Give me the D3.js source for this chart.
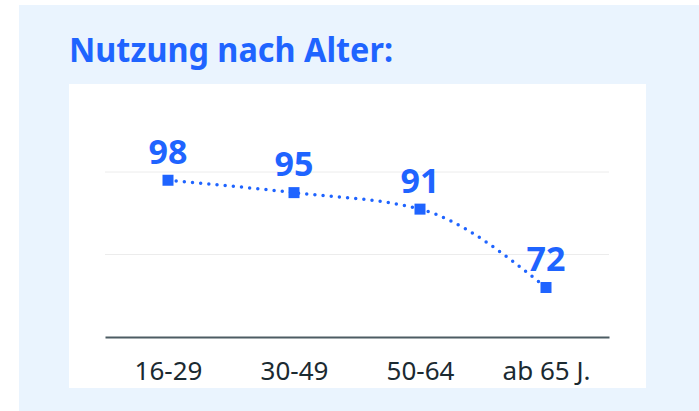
<!DOCTYPE html>
<html>
<head>
<meta charset="utf-8">
<script src="https://cdn.jsdelivr.net/npm/d3@7"></script>
<style>
  body { margin: 0; background: #fff; }
  svg { display: block; font-family: "Noto Sans", "Open Sans", sans-serif; }
</style>
</head>
<body>
<svg id="chart" width="699" height="411"></svg>
<script>
// chart data
var categories = ["16-29", "30-49", "50-64", "ab 65 J."];
var values = [98, 95, 91, 72];
var gridTicks = [60, 80, 100];
var title = "Nutzung nach Alter:";

var blue = "#1f64ff";

var svg = d3.select("#chart");

// light blue panel, white plot card
svg.append("rect").attr("x", 19).attr("y", 5).attr("width", 680).attr("height", 406)
    .attr("fill", "#eaf4fe");
svg.append("rect").attr("x", 69).attr("y", 84).attr("width", 577).attr("height", 304)
    .attr("fill", "#fff");

svg.append("text")
    .attr("x", 69).attr("y", 62)
    .attr("textLength", 324).attr("lengthAdjust", "spacingAndGlyphs")
    .attr("font-size", 34).attr("font-weight", 700)
    .attr("fill", blue)
    .text(title);

var x = d3.scalePoint().domain(categories).range([105, 609]).padding(0.5);
var y = d3.scaleLinear().domain([60, 100]).range([337, 172]);

// gridlines (no labels)
svg.append("g").selectAll("line")
    .data(gridTicks.filter(function(t) { return t > 60; }))
    .join("line")
    .attr("x1", 105).attr("x2", 609)
    .attr("y1", function(d) { return y(d); })
    .attr("y2", function(d) { return y(d); })
    .attr("stroke", "#ececec").attr("stroke-width", 1);

// x axis
var xAxis = svg.append("g")
    .attr("transform", "translate(0," + y(60) + ")")
    .call(d3.axisBottom(x).tickSize(0).tickPadding(25));
xAxis.select(".domain").attr("stroke", "#4c5c63").attr("stroke-width", 2);
xAxis.selectAll("text")
    .attr("font-size", 26).attr("fill", "#1b2a31")
    .attr("font-family", "\"Noto Sans\", sans-serif");

var points = categories.map(function(c, i) { return {cat: c, v: values[i]}; });

var line = d3.line()
    .x(function(d) { return x(d.cat); })
    .y(function(d) { return y(d.v); })
    .curve(d3.curveMonotoneX);

svg.append("path")
    .datum(points)
    .attr("d", line)
    .attr("fill", "none")
    .attr("stroke", blue)
    .attr("stroke-width", 3.5)
    .attr("stroke-linecap", "round")
    .attr("stroke-dasharray", "0 8.2");

var size = 11;
svg.append("g").selectAll("rect")
    .data(points)
    .join("rect")
    .attr("x", function(d) { return x(d.cat) - size / 2; })
    .attr("y", function(d) { return y(d.v) - size / 2; })
    .attr("width", size).attr("height", size)
    .attr("fill", blue);

svg.append("g").selectAll("text")
    .data(points)
    .join("text")
    .attr("x", function(d) { return x(d.cat); })
    .attr("y", function(d) { return y(d.v) - 16.5; })
    .attr("text-anchor", "middle")
    .attr("font-size", 34).attr("font-weight", 700)
    .attr("fill", blue)
    .text(function(d) { return d.v; });
</script>
</body>
</html>
